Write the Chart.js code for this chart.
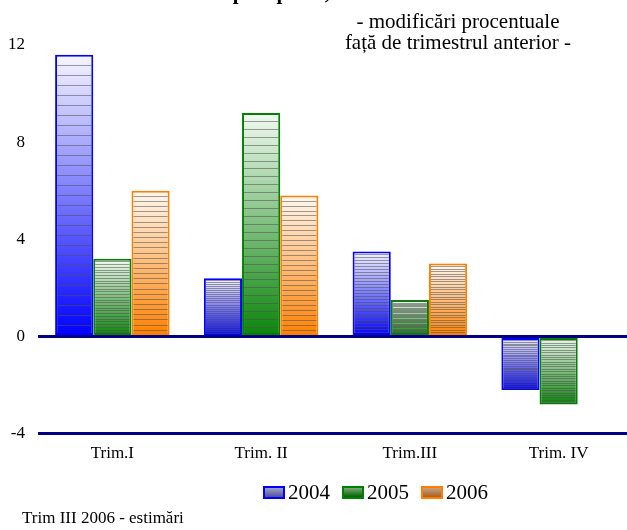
<!DOCTYPE html>
<html lang="ro">
<head>
  <meta charset="UTF-8">
  <title>Modificari procentuale fata de trimestrul anterior</title>
  <script src="https://cdn.jsdelivr.net/npm/chart.js"></script>
  <style>
    html, body {
      margin: 0;
      padding: 0;
      background: #fff;
      overflow: hidden;
    }
    body {
      width: 627px;
      height: 530px;
      position: relative;
      font-family: 'Liberation Serif', 'Times New Roman', serif;
      color: #000;
    }
    #wrap {
      position: absolute;
      left: 0;
      top: 0;
      width: 640px;
      height: 530px;
    }
    .subtitle {
      position: absolute;
      left: 318px;
      top: 11px;
      width: 280px;
      text-align: center;
      font-size: 21px;
      line-height: 21px;
    }
    .legend {
      position: absolute;
      left: 263px;
      top: 481px;
      display: flex;
      font-size: 21px;
      line-height: 22px;
    }
    .legend .item {
      display: flex;
      align-items: center;
      margin-right: 12px;
    }
    .legend .box {
      width: 18px;
      height: 9px;
      border: 2px solid;
      margin-right: 3px;
    }
    .note {
      position: absolute;
      left: 22px;
      top: 508px;
      font-size: 17px;
    }
  </style>
</head>
<body>

  <div id="wrap"><canvas id="chart" width="640" height="530"></canvas></div>
  <div class="subtitle">- modificări procentuale<br>față de trimestrul anterior -</div>
  <div class="legend" id="legend"></div>
  <div class="note">Trim III 2006 - estimări</div>

  <script>
    // Data
    const quarters = ['Trim.I', 'Trim. II', 'Trim.III', 'Trim. IV'];
    const years = ['2004', '2005', '2006'];
    const v2004 = [11.6, 2.4, 3.5, -2.2];
    const v2005 = [3.2, 9.2, 1.5, -2.8];
    const v2006 = [6.0, 5.8, 3.0, null];
    const yTicks = [-4, 0, 4, 8, 12];

    // colours per series: border, light top, dark bottom, legend box fill
    const edge = ['#0000ff', '#008000', '#ff8000'];
    const light = ['#f6f6ff', '#f2faf2', '#fff8f0'];
    const dark = ['#0000ff', '#0a840a', '#ff8000'];
    const legendFill = [
      'linear-gradient(#a0a0d0, #505098)',
      'linear-gradient(#78a878, #006400)',
      'linear-gradient(#c8a080, #a86020)'
    ];

    const gradFill = i => ctx => {
      const chart = ctx.chart;
      const area = chart.chartArea;
      if (!area || ctx.raw == null) return dark[i];
      const y = chart.scales.y;
      const top = y.getPixelForValue(Math.max(ctx.raw, 0));
      const bot = y.getPixelForValue(Math.min(ctx.raw, 0));
      if (bot - top < 1) return dark[i];
      const g = chart.ctx.createLinearGradient(0, top, 0, bot);
      g.addColorStop(0, light[i]);
      g.addColorStop(1, dark[i]);
      return g;
    };

    // horizontal hatch lines inside each bar
    const stripes = {
      id: 'stripes',
      afterDatasetsDraw(chart) {
        const c = chart.ctx;
        c.save();
        c.strokeStyle = 'rgba(80,80,80,0.55)';
        c.lineWidth = 1;
        chart.data.datasets.forEach((ds, i) => {
          chart.getDatasetMeta(i).data.forEach((bar, j) => {
            if (ds.data[j] == null) return;
            const top = Math.min(bar.y, bar.base);
            const bot = Math.max(bar.y, bar.base);
            const h = bot - top;
            if (h < 3) return;
            const n = 28;
            for (let k = 1; k < n; k++) {
              const yy = Math.round(top + k * h / n) + 0.5;
              c.beginPath();
              c.moveTo(bar.x - bar.width / 2 + 2, yy);
              c.lineTo(bar.x + bar.width / 2 - 2, yy);
              c.stroke();
            }
          });
        });
        c.restore();
      }
    };

    // title is cut off by the top edge, only its descenders show
    const cutTitle = {
      id: 'cutTitle',
      afterDraw(chart) {
        const c = chart.ctx;
        c.save();
        c.font = 'bold 21px "Liberation Serif", serif';
        c.fillStyle = '#000';
        c.textBaseline = 'alphabetic';
        c.fillText('Import pe an,', 207, -1);
        c.restore();
      }
    };

    new Chart(document.getElementById('chart'), {
      type: 'bar',
      data: {
        labels: quarters,
        datasets: [v2004, v2005, v2006].map((d, i) => ({
          label: years[i],
          data: d,
          backgroundColor: gradFill(i),
          borderColor: edge[i],
          borderWidth: 2,
          borderSkipped: false,
          categoryPercentage: 0.77,
          barPercentage: 1.0
        }))
      },
      options: {
        responsive: false,
        animation: false,
        layout: { padding: { top: 45, bottom: 64, right: 7, left: 0 } },
        plugins: {
          legend: { display: false },
          tooltip: { enabled: false }
        },
        scales: {
          x: {
            grid: { display: false },
            border: { display: false },
            ticks: { color: '#000', font: { family: 'Liberation Serif', size: 17 }, padding: 2 }
          },
          y: {
            z: 1,
            min: -4,
            max: 12,
            afterBuildTicks: s => { s.ticks = yTicks.map(v => ({ value: v })); },
            afterFit: s => { s.width = 38; },
            grid: {
              drawTicks: false,
              lineWidth: 3,
              color: ctx => (ctx.tick && (ctx.tick.value === 0 || ctx.tick.value === -4)) ? '#000080' : 'rgba(0,0,0,0)'
            },
            border: { display: false },
            ticks: { color: '#000', font: { family: 'Liberation Serif', size: 17 }, padding: 13 }
          }
        }
      },
      plugins: [stripes, cutTitle]
    });

    // legend
    const leg = document.getElementById('legend');
    years.forEach((y, i) => {
      const item = document.createElement('span');
      item.className = 'item';
      item.innerHTML = '<span class="box" style="border-color:' + edge[i] + ';background:' + legendFill[i] + '"></span>' + y;
      leg.appendChild(item);
    });
  </script>

</body>
</html>
